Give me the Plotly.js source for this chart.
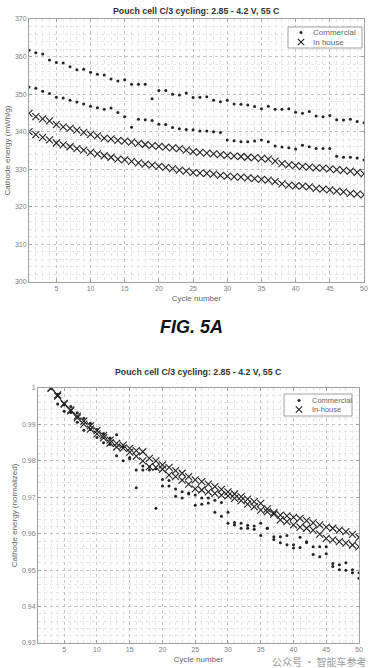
<!DOCTYPE html>
<html>
<head>
<meta charset="utf-8">
<script src="https://cdn.plot.ly/plotly-3.0.1.min.js"></script>
<style>html,body{margin:0;padding:0;background:#fff;}#chart{width:371px;height:668px;}</style>
</head>
<body>
<div id="chart"></div>
<script>
// ---------- data ----------
const cyclesTop = [1,2,3,4,5,6,7,8,9,10,11,12,13,14,15,16,17,18,19,20,21,22,23,24,25,26,27,28,29,30,31,32,33,34,35,36,37,38,39,40,41,42,43,44,45,46,47,48,49,50];
const commercialA_mWh = [361.7,361.0,360.7,359.1,358.4,358.3,357.3,356.5,356.6,355.8,355.3,355.1,354.0,353.5,353.8,352.6,352.6,352.6,348.8,351.0,351.0,350.0,349.8,350.3,349.1,349.2,349.3,348.4,348.0,348.4,347.4,347.3,347.1,346.7,346.1,346.8,346.0,346.0,346.1,345.2,344.9,345.4,344.2,344.0,344.3,343.2,343.1,343.3,342.7,342.4];
const commercialB_mWh = [351.9,351.6,350.8,350.2,349.2,349.0,348.4,347.9,347.4,346.8,346.4,346.0,346.3,345.1,344.0,341.2,343.3,343.2,343.0,342.0,341.9,341.1,340.8,340.6,340.5,340.2,340.2,340.0,339.8,337.8,337.6,337.3,337.3,337.5,337.8,337.3,336.2,335.9,335.7,335.4,336.4,336.0,335.5,335.5,335.5,333.5,333.2,333.2,333.0,332.5];
const inhouseA_mWh = [344.9,344.0,343.4,342.9,341.9,341.3,340.9,340.4,339.8,339.3,338.9,338.3,338.1,337.7,337.5,337.2,336.9,336.6,336.3,336.1,335.9,335.7,335.5,335.1,334.7,334.5,334.3,334.1,333.9,333.7,333.5,333.4,333.2,333.1,332.9,332.7,332.2,331.5,331.2,331.0,330.8,330.6,330.4,330.3,330.1,329.9,329.7,329.5,329.2,328.8];
const inhouseB_mWh = [340.0,339.2,338.5,337.8,337.0,336.5,336.0,335.5,335.1,334.5,334.1,333.6,333.2,332.7,332.5,332.1,331.7,331.4,331.1,330.8,330.5,330.2,329.8,329.5,329.1,329.0,328.9,328.7,328.4,328.2,328.0,327.9,327.7,327.5,327.3,327.1,326.7,326.1,325.8,325.6,325.5,325.3,324.9,324.7,324.5,324.2,324.0,323.6,323.4,323.2];

const cyclesNorm = [3,4,5,6,7,8,9,10,11,12,13,14,15,16,17,18,19,20,21,22,23,24,25,26,27,28,29,30,31,32,33,34,35,36,37,38,39,40,41,42,43,44,45,46,47,48,49,50];
const commercialA_norm = [1.0,0.9956,0.9936,0.9933,0.9906,0.9884,0.9886,0.9864,0.9850,0.9845,0.9814,0.9800,0.9809,0.9775,0.9775,0.9775,0.9670,0.9731,0.9731,0.9703,0.9698,0.9712,0.9678,0.9681,0.9684,0.9659,0.9648,0.9659,0.9631,0.9629,0.9623,0.9612,0.9595,0.9615,0.9592,0.9592,0.9595,0.9570,0.9562,0.9576,0.9543,0.9537,0.9545,0.9518,0.9515,0.9520,0.9501,0.9493];
const commercialB_norm = [1.0,0.9983,0.9954,0.9949,0.9932,0.9917,0.9903,0.9886,0.9875,0.9863,0.9872,0.9838,0.9806,0.9726,0.9786,0.9783,0.9778,0.9749,0.9746,0.9723,0.9715,0.9709,0.9706,0.9698,0.9698,0.9692,0.9686,0.9629,0.9624,0.9615,0.9615,0.9621,0.9629,0.9615,0.9584,0.9575,0.9570,0.9561,0.9590,0.9578,0.9564,0.9564,0.9564,0.9510,0.9501,0.9500,0.9493,0.9478];
const inhouseA_norm = [1.000,0.9981,0.9958,0.9940,0.9923,0.9909,0.9896,0.9883,0.9869,0.9857,0.9848,0.9843,0.9834,0.9828,0.9825,0.9807,0.9800,0.9789,0.9782,0.9773,0.9766,0.9757,0.9748,0.9743,0.9736,0.9729,0.9722,0.9715,0.9709,0.9702,0.9695,0.9688,0.9683,0.9668,0.9658,0.9651,0.9649,0.9645,0.9642,0.9636,0.9630,0.9624,0.9618,0.9615,0.9610,0.9606,0.9598,0.9590];
const inhouseB_norm = [1.000,0.9978,0.9956,0.9937,0.9918,0.9901,0.9887,0.9874,0.9863,0.9849,0.9838,0.9835,0.9824,0.9813,0.9800,0.9784,0.9782,0.9777,0.9761,0.9757,0.9747,0.9736,0.9723,0.9720,0.9715,0.9711,0.9706,0.9704,0.9697,0.9691,0.9681,0.9674,0.9665,0.9660,0.9654,0.9638,0.9633,0.9624,0.9618,0.9615,0.9610,0.9599,0.9587,0.9583,0.9578,0.9574,0.9569,0.9564];

const xTicks = [5,10,15,20,25,30,35,40,45,50];
const yTicksTop = [300,310,320,330,340,350,360,370];
const yTicksBottom = [0.93,0.94,0.95,0.96,0.97,0.98,0.99,1];
const yTickTextBottom = ['0.93','0.94','0.95','0.96','0.97','0.98','0.99','1'];
const chartTitle = 'Pouch cell C/3 cycling: 2.85 - 4.2 V, 55 C';
const legendTop = ['Commercial', 'In house'];
const legendBottom = ['Commercial', 'In-house'];

// ---------- styling ----------
const W = 371, H = 668;
const px = v => v / W;
const py = v => 1 - v / H;
const dotMarker = {symbol:'circle', size:3, color:'#222'};
const xMarker = {symbol:'x-thin-open', size:7, line:{width:1.1, color:'#222'}, color:'#222'};

const traces = [
  {x:cyclesTop, y:commercialA_mWh, type:'scatter', mode:'markers', name:legendTop[0], marker:dotMarker, xaxis:'x', yaxis:'y'},
  {x:cyclesTop, y:commercialB_mWh, type:'scatter', mode:'markers', name:legendTop[0], marker:dotMarker, xaxis:'x', yaxis:'y'},
  {x:cyclesTop, y:inhouseA_mWh, type:'scatter', mode:'markers', name:legendTop[1], marker:xMarker, xaxis:'x', yaxis:'y'},
  {x:cyclesTop, y:inhouseB_mWh, type:'scatter', mode:'markers', name:legendTop[1], marker:xMarker, xaxis:'x', yaxis:'y'},
  {x:cyclesNorm, y:commercialA_norm, type:'scatter', mode:'markers', name:legendBottom[0], marker:dotMarker, xaxis:'x2', yaxis:'y2'},
  {x:cyclesNorm, y:commercialB_norm, type:'scatter', mode:'markers', name:legendBottom[0], marker:dotMarker, xaxis:'x2', yaxis:'y2'},
  {x:cyclesNorm, y:inhouseA_norm, type:'scatter', mode:'markers', name:legendBottom[1], marker:xMarker, xaxis:'x2', yaxis:'y2'},
  {x:cyclesNorm, y:inhouseB_norm, type:'scatter', mode:'markers', name:legendBottom[1], marker:xMarker, xaxis:'x2', yaxis:'y2'}
];

const axisCommon = {
  showline:true, mirror:'ticks', linecolor:'#a0a0a0', linewidth:1,
  ticks:'inside', ticklen:3, tickcolor:'#a0a0a0', tickwidth:1,
  showgrid:true, gridcolor:'#c4c4c4', griddash:'dot', gridwidth:1,
  zeroline:false, tickfont:{size:7, color:'#808080'},
  fixedrange:true
};
const minorGrid = {showgrid:true, gridcolor:'#e6e6e6', griddash:'dot', ticks:''};

// compact MATLAB-style legend: box, glyph shapes and label texts
function legendItems(x0, y0, x1, y1, rows, labels, symX, txtX, fs) {
  const P = (x, y) => [px(x), py(y)];
  const g = '#222';
  const shapes = [
    {type:'rect', xref:'paper', yref:'paper', x0:px(x0), x1:px(x1), y0:py(y1), y1:py(y0), line:{color:'#a0a0a0', width:1}, fillcolor:'#fff', layer:'above'},
    {type:'circle', xref:'paper', yref:'paper', x0:px(symX-1.3), x1:px(symX+1.3), y0:py(rows[0]+1.3), y1:py(rows[0]-1.3), line:{color:g, width:0.5}, fillcolor:g, layer:'above'},
    {type:'line', xref:'paper', yref:'paper', x0:px(symX-3.2), x1:px(symX+3.2), y0:py(rows[1]-3.2), y1:py(rows[1]+3.2), line:{color:g, width:1.1}, layer:'above'},
    {type:'line', xref:'paper', yref:'paper', x0:px(symX-3.2), x1:px(symX+3.2), y0:py(rows[1]+3.2), y1:py(rows[1]-3.2), line:{color:g, width:1.1}, layer:'above'}
  ];
  const ann = [
    {text:labels[0], xref:'paper', yref:'paper', x:px(txtX), y:py(rows[0]), xanchor:'left', yanchor:'middle', showarrow:false, font:{size:fs, color:'#666'}},
    {text:labels[1], xref:'paper', yref:'paper', x:px(txtX), y:py(rows[1]), xanchor:'left', yanchor:'middle', showarrow:false, font:{size:fs, color:'#666'}}
  ];
  return {shapes, ann};
}
const lg1 = legendItems(288, 27, 362, 48, [32.5, 42], legendTop, 301, 311, 8);
const lg2 = legendItems(284, 394, 352, 416, [400.5, 409.5], legendBottom, 299, 310, 7.5);

const layout = {
  width:W, height:H,
  margin:{l:0, r:0, t:0, b:0},
  paper_bgcolor:'#fff', plot_bgcolor:'#fff',
  showlegend:false,
  font:{family:'Liberation Sans, Arial, sans-serif', size:7, color:'#666'},
  xaxis: Object.assign({}, axisCommon, {
    domain:[px(29), px(364)], anchor:'y', range:[1,50], tickvals:xTicks,
    minor:Object.assign({dtick:1, tick0:0}, minorGrid),
    title:{text:'Cycle number', font:{size:8, color:'#666'}, standoff:3}
  }),
  yaxis: Object.assign({}, axisCommon, {
    domain:[py(282), py(19)], anchor:'x', range:[300,370], tickvals:yTicksTop,
    minor:Object.assign({dtick:2, tick0:0}, minorGrid),
    title:{text:'Cathode energy (mWh/g)', font:{size:8, color:'#666'}, standoff:3}
  }),
  xaxis2: Object.assign({}, axisCommon, {
    domain:[px(38), px(359)], anchor:'y2', range:[1,50], tickvals:xTicks,
    minor:Object.assign({dtick:1, tick0:0}, minorGrid),
    title:{text:'Cycle number', font:{size:8, color:'#666'}, standoff:3}
  }),
  yaxis2: Object.assign({}, axisCommon, {
    domain:[py(643), py(388)], anchor:'x2', range:[0.93,1], tickvals:yTicksBottom, ticktext:yTickTextBottom,
    minor:Object.assign({dtick:0.002, tick0:0.93}, minorGrid),
    title:{text:'Cathode energy (normalized)', font:{size:8, color:'#666'}, standoff:3}
  }),
  shapes: lg1.shapes.concat(lg2.shapes),
  annotations:[
    {text:'<b>'+chartTitle+'</b>', xref:'paper', yref:'paper', x:px(196), y:py(11), xanchor:'center', yanchor:'middle', showarrow:false, font:{size:8.8, color:'#333'}},
    {text:'<b>'+chartTitle+'</b>', xref:'paper', yref:'paper', x:px(198), y:py(372), xanchor:'center', yanchor:'middle', showarrow:false, font:{size:8.8, color:'#333'}},
    {text:'<b><i>FIG. 5A</i></b>', xref:'paper', yref:'paper', x:px(191), y:py(327), xanchor:'center', yanchor:'middle', showarrow:false, font:{size:18, color:'#111', family:'Liberation Sans, Arial, sans-serif'}},
    {text:'公众号 · 智能车参考', xref:'paper', yref:'paper', x:px(368), y:py(661), xanchor:'right', yanchor:'middle', showarrow:false, font:{size:10, color:'#9a9a9a', family:'Noto Sans CJK SC, sans-serif'}}
  ].concat(lg1.ann, lg2.ann)
};

Plotly.newPlot('chart', traces, layout, {staticPlot:true, displayModeBar:false});
</script>
</body>
</html>
